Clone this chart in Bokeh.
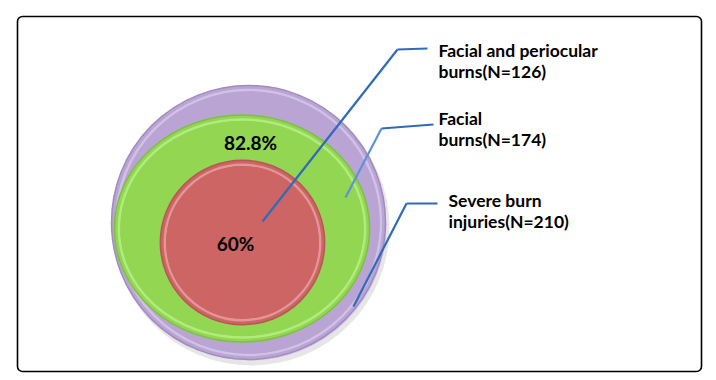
from bokeh.plotting import figure
from bokeh.models import Range1d, BoxAnnotation, ColumnDataSource
from bokeh.core.properties import value
from bokeh.embed import file_html
from bokeh.resources import INLINE

# ---------------- data ----------------
categories = ["Severe burn injuries", "Facial burns", "Facial and periocular burns"]
counts = [210, 174, 126]
percents = [100.0, 82.8, 60.0]
pct_labels = ["", "82.8%", "60%"]

# ---------------- layout / style (pixel space) ----------------
W, H = 708, 376
R = 137                         # radius of the 100% circle
cx = [248, 241.5, 242]
cy = [222, 228, 242]
x_stretch = [1.0, 1.125, 1.0]
fills = ["#B9A4D4", "#92D651", "#CD6565"]
edges = ["#A18BC0", "#7EC043", "#B85757"]
rims = ["#D6C8E8", "#B9F08C", "#E8A3A3"]

pct_x = [0, 250, 235]
pct_y = [0, 142, 243]

anchor_x = [353, 345, 262]
anchor_y = [306, 197, 221]
knee_x = [406, 381, 397]
knee_y = [203, 128, 49]
end_x = [437, 433, 427]
end_y = [203, 124, 48]
text_x = [448, 438, 438]
text_y = [200, 118, 50]
line_gap = 21
callout_color = "#2F6BBA"
callout_light = "#5E92D6"

FONT = "Lato"

p = figure(width=W, height=H, output_backend="svg", toolbar_location=None,
           x_range=Range1d(0, W), y_range=Range1d(H, 0),
           min_border=0, background_fill_color="white", border_fill_color="white")
p.axis.visible = False
p.grid.visible = False
p.outline_line_color = None

# frame
p.add_layout(BoxAnnotation(left=17, right=701, top=16, bottom=371, fill_alpha=0,
                           line_color="black", line_alpha=1.0, line_width=1.6, border_radius=5))

# circles
rad = [R * v / 100.0 for v in percents]
widths = [2 * r * s for r, s in zip(rad, x_stretch)]
heights = [2 * r for r in rad]

# shadow below the outer circle
p.ellipse(x=[cx[0] + 3], y=[cy[0] + 5], width=[widths[0] + 2], height=[heights[0] + 2],
          fill_color="#9A9A9A", fill_alpha=0.25, line_color=None)
p.ellipse(x=[cx[0] + 2], y=[cy[0] + 2], width=[widths[0] - 2], height=[heights[0] - 2],
          fill_color="#D8CCE6", fill_alpha=1.0, line_color=None)

for i in range(3):
    p.ellipse(x=[cx[i]], y=[cy[i]], width=[widths[i]], height=[heights[i]],
              fill_color=fills[i], line_color=edges[i], line_width=1.5)
    p.ellipse(x=[cx[i]], y=[cy[i]], width=[widths[i] - 9], height=[heights[i] - 9],
              fill_color=None, line_color=rims[i], line_width=2.5, line_alpha=0.8)
    p.ellipse(x=[cx[i]], y=[cy[i]], width=[widths[i] - 15], height=[heights[i] - 15],
              fill_color=None, line_color=fills[i], line_width=3, line_alpha=1.0)

# percentage labels
src_pct = ColumnDataSource(dict(x=pct_x[1:], y=pct_y[1:], t=pct_labels[1:]))
p.text(x="x", y="y", text="t", source=src_pct, text_align="center", text_baseline="middle",
       text_font=value(FONT), text_font_style="bold", text_font_size="19px", text_color="black")

# callouts
for i in range(3):
    p.line(x=[anchor_x[i], knee_x[i]], y=[anchor_y[i], knee_y[i]],
           line_color=callout_light if i == 1 else callout_color, line_width=2.2)
    p.line(x=[knee_x[i], end_x[i]], y=[knee_y[i], end_y[i]],
           line_color=callout_color, line_width=2.2)

line1 = [c.rsplit(" ", 1)[0] for c in categories]
line2 = [c.rsplit(" ", 1)[1] + "(N=%d)" % n for c, n in zip(categories, counts)]
src_lab = ColumnDataSource(dict(x=text_x + text_x,
                                y=text_y + [t + line_gap for t in text_y],
                                t=line1 + line2))
p.text(x="x", y="y", text="t", source=src_lab, text_align="left", text_baseline="alphabetic",
       text_font=value(FONT), text_font_style="bold", text_font_size="17.5px", text_color="black")

open("out.html", "w").write(file_html(p, INLINE))
